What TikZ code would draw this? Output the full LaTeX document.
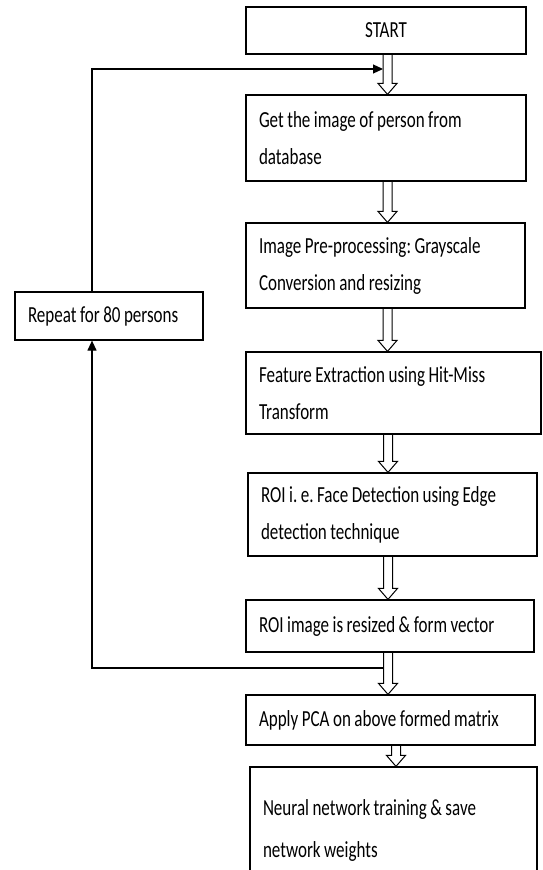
\documentclass[tikz,border=0pt]{standalone}
\usepackage{fontspec}
\setmainfont[FakeStretch=0.74]{Carlito}
\usetikzlibrary{arrows.meta,calc}

\tikzset{
  stepbox/.style={draw, line width=1.2pt, inner xsep=13pt, inner ysep=0pt, align=left,
    font=\fontsize{23}{37}\selectfont,
    execute at begin node={\frenchspacing\spaceskip=3.5pt plus 1pt\relax}},
  hollow/.style={draw, line width=1pt, line join=miter},
  loopline/.style={line width=1.2pt, -{Triangle[length=10pt,width=9pt]}}
}

% open arrow between two boxes, at a given x
\newcommand{\blockarrow}[3]{%
  \draw[hollow] let \p1=(#1.south), \p2=(#2.north) in
    ({#3pt-4.5pt},\y1) -- ({#3pt-4.5pt},{\y2+11pt}) -- ({#3pt-9.5pt},{\y2+11pt})
    -- ({#3pt},\y2) -- ({#3pt+9.5pt},{\y2+11pt}) -- ({#3pt+4.5pt},{\y2+11pt})
    -- ({#3pt+4.5pt},\y1);}

\begin{document}
\begin{tikzpicture}[x=1pt,y=-1pt]
    \useasboundingbox (0,0) rectangle (542,870);
    \clip (0,0) rectangle (542,870);
    \node[stepbox, align=center, text width=254pt, minimum height=47pt] (start) at (386,30.5) {START};
    \node[stepbox, text width=254pt, minimum height=86pt] (get) at (386,138) {Get the image of person from\\database};
    \node[stepbox, text width=253pt, minimum height=85pt] (pre) at (385.5,265.5) {Image Pre-processing: Grayscale\\Conversion and resizing};
    \node[stepbox, text width=269pt, minimum height=82pt] (feat) at (393.5,393) {Feature Extraction using Hit-Miss\\Transform};
    \node[stepbox, text width=263pt, minimum height=83pt] (roi) at (392.5,514.5) {ROI i. e. Face Detection using Edge\\detection technique};
    \node[stepbox, text width=262pt, minimum height=52pt] (resz) at (390,626) {ROI image is resized \& form vector};
    \node[stepbox, text width=263pt, minimum height=50pt] (pca) at (390.5,720) {Apply PCA on above formed matrix};
    \node[stepbox, text width=261pt, minimum height=126pt, font=\fontsize{23}{42}\selectfont] (nn) at (393.5,830) {Neural network training \& save\\network weights};
    \node[stepbox, text width=162pt, minimum height=48pt] (rep) at (109,316) {Repeat for 80 persons};

    \blockarrow{start}{get}{387.5}
    \blockarrow{get}{pre}{387.5}
    \blockarrow{pre}{feat}{387.5}
    \blockarrow{feat}{roi}{388}
    \blockarrow{roi}{resz}{388}
    \blockarrow{resz}{pca}{388}
    \blockarrow{pca}{nn}{396}

    % loop back
    \coordinate (loopout) at (383.5,668);
    \coordinate (lb) at (92,668);
    \coordinate (lt) at (92,69);
    \coordinate (loopin) at (383,69);
    \draw[loopline] (loopout) -- (lb) -- (lb |- rep.south);
    \draw[loopline] (lt |- rep.north) -- (lt) -- (loopin);
\end{tikzpicture}
\end{document}
